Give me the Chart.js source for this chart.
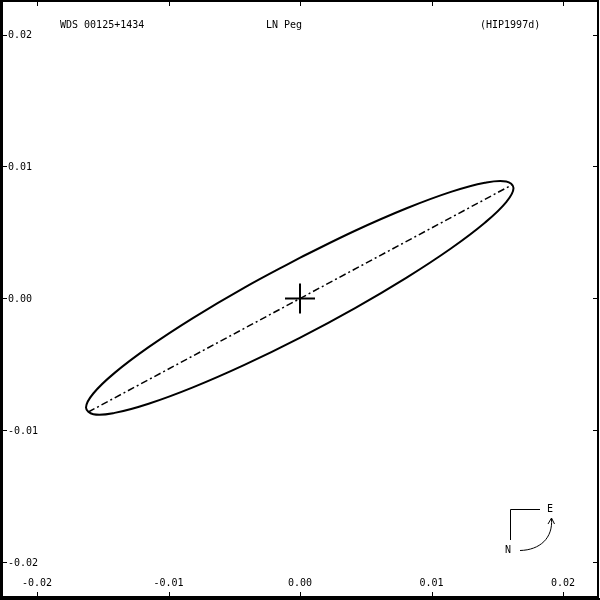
<!DOCTYPE html>
<html>
<head>
<meta charset="utf-8">
<script src="https://cdn.jsdelivr.net/npm/chart.js@4"></script>
<style>
html,body{margin:0;padding:0;background:#fff;}
canvas{display:block;}
</style>
</head>
<body>
<canvas id="c" width="600" height="600"></canvas>
<script>
// Title texts
const titleLeft = "WDS 00125+1434";
const titleMid = "LN Peg";
const titleRight = "(HIP1997d)";

// Tick values / labels (same on both axes)
const tickValues = [-0.02, -0.01, 0.00, 0.01, 0.02];
const tickLabels = ["-0.02", "-0.01", "0.00", "0.01", "0.02"];

// Orbit ellipse points (arcsec), going round the orbit
const orbitX = [-0.000019, -0.004226, -0.008147, -0.011513, -0.014096, -0.015720, -0.016274,
  -0.015720, -0.014096, -0.011513, -0.008147, -0.004226, -0.000019, 0.004188, 0.008109,
  0.011475, 0.014058, 0.015682, 0.016236, 0.015682, 0.014058, 0.011475, 0.008109, 0.004188,
  -0.000019];
const orbitY = [0.003083, 0.000827, -0.001482, -0.003686, -0.005635, -0.007197, -0.008264,
  -0.008765, -0.008665, -0.007971, -0.006730, -0.005027, -0.002978, -0.000722, 0.001586,
  0.003790, 0.005740, 0.007301, 0.008369, 0.008870, 0.008770, 0.008076, 0.006835, 0.005132,
  0.003083];

// Line of nodes endpoints
const nodesX = [-0.0161, 0.0161];
const nodesY = [-0.0086, 0.0086];

// Primary star
const primaryX = [0];
const primaryY = [0];

const toPts = (xs, ys) => xs.map((x, i) => ({x: x, y: ys[i]}));

const FONT = '10px "DejaVu Sans Mono", "Liberation Mono", monospace';

const decor = {
  id: 'decor',
  afterDraw(chart) {
    const ctx = chart.ctx;
    const xs = chart.scales.x, ys = chart.scales.y;
    const a = chart.chartArea;
    ctx.save();
    // frame
    ctx.strokeStyle = '#000';
    ctx.lineWidth = 2;
    ctx.strokeRect(a.left, a.top, a.right - a.left, a.bottom - a.top);
    ctx.fillStyle = '#000';
    ctx.fillRect(0, 0, 3, 600);
    ctx.fillRect(0, 598, 600, 2);
    ctx.lineWidth = 1;
    // ticks
    ctx.beginPath();
    tickValues.forEach(v => {
      const px = Math.round(xs.getPixelForValue(v)) + 0.5;
      ctx.moveTo(px, a.top); ctx.lineTo(px, a.top + 5);
      ctx.moveTo(px, a.bottom); ctx.lineTo(px, a.bottom - 5);
      const py = Math.round(ys.getPixelForValue(v)) + 0.5;
      ctx.moveTo(a.left, py); ctx.lineTo(a.left + 6, py);
      ctx.moveTo(a.right, py); ctx.lineTo(a.right - 5, py);
    });
    ctx.stroke();
    // tick labels
    ctx.font = FONT;
    ctx.fillStyle = '#000';
    ctx.textBaseline = 'middle';
    tickValues.forEach((v, i) => {
      const py = ys.getPixelForValue(v);
      ctx.textAlign = 'left';
      ctx.fillText(tickLabels[i], 8, py + 1);
      const px = xs.getPixelForValue(v);
      ctx.textAlign = 'center';
      ctx.fillText(tickLabels[i], px, 583);
    });
    // titles
    ctx.textAlign = 'left';
    ctx.fillText(titleLeft, 60, 25);
    ctx.fillText(titleMid, 266, 25);
    ctx.fillText(titleRight, 480, 25);
    // compass
    ctx.lineWidth = 1;
    ctx.beginPath();
    ctx.moveTo(540, 509.5); ctx.lineTo(510.5, 509.5); ctx.lineTo(510.5, 540);
    ctx.stroke();
    ctx.beginPath();
    ctx.moveTo(520, 550.5);
    ctx.bezierCurveTo(540, 550, 553, 538, 551.5, 519);
    ctx.stroke();
    ctx.beginPath();
    ctx.moveTo(548, 524); ctx.lineTo(551.5, 518); ctx.lineTo(554.5, 524);
    ctx.stroke();
    ctx.textAlign = 'center';
    ctx.fillText('E', 550, 509);
    ctx.fillText('N', 508, 550);
    ctx.restore();
  }
};

new Chart(document.getElementById('c'), {
  type: 'scatter',
  data: {
    datasets: [
      {
        data: toPts(orbitX, orbitY),
        showLine: true,
        borderColor: '#000',
        borderWidth: 2,
        pointRadius: 0,
        tension: 0.4,
        fill: false
      },
      {
        data: toPts(nodesX, nodesY),
        showLine: true,
        borderColor: '#000',
        borderWidth: 1.5,
        borderDash: [7, 3, 2, 3],
        pointRadius: 0,
        fill: false
      },
      {
        data: toPts(primaryX, primaryY),
        pointStyle: 'cross',
        pointRadius: 15,
        borderColor: '#000',
        borderWidth: 2,
        backgroundColor: '#000'
      },
      {
        data: toPts(primaryX, primaryY),
        pointStyle: 'circle',
        pointRadius: 1,
        borderWidth: 0,
        backgroundColor: '#00cc00'
      }
    ]
  },
  options: {
    responsive: false,
    animation: false,
    layout: {autoPadding: false, padding: {left: 1, top: 1, right: 2, bottom: 3}},
    plugins: {legend: {display: false}, tooltip: {enabled: false}},
    scales: {
      x: {type: 'linear', display: false, min: -0.022738, max: 0.022661},
      y: {type: 'linear', display: false, min: -0.022614, max: 0.022538}
    }
  },
  plugins: [decor]
});
</script>
</body>
</html>
